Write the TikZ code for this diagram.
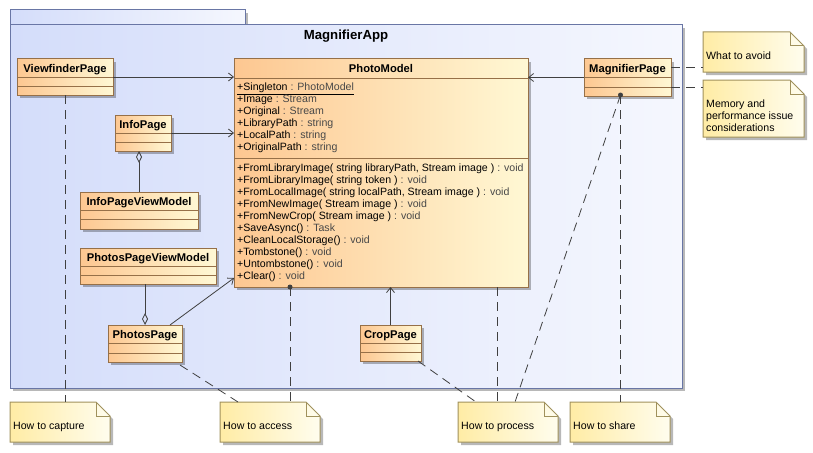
\documentclass[tikz,border=0pt]{standalone}
\usepackage{fontspec}
\setmainfont{Liberation Sans}
\usetikzlibrary{arrows.meta,shadows,calc}
\definecolor{clsL}{RGB}{253,199,145}
\definecolor{clsR}{RGB}{255,248,212}
\definecolor{clsB}{RGB}{150,112,72}
\definecolor{pkgL}{RGB}{212,221,250}
\definecolor{pkgR}{RGB}{245,247,254}
\definecolor{pkgB}{RGB}{105,118,165}
\definecolor{noteL}{RGB}{255,236,165}
\definecolor{noteR}{RGB}{255,253,238}
\definecolor{noteB}{RGB}{160,145,92}
\definecolor{lnC}{RGB}{64,64,64}
\definecolor{tpC}{RGB}{72,72,72}
\newcommand\fsN{\fontsize{10.6}{12}\selectfont}
\newcommand\fsB{\fontsize{11.2}{12}\selectfont\bfseries}
\newcommand\fsT{\fontsize{13.2}{15}\selectfont\bfseries}
\newcommand\tp[1]{\textcolor{tpC}{#1}}
\tikzset{
  shd/.style={drop shadow={shadow xshift=3pt, shadow yshift=-3pt, fill=black, opacity=0.28}},
  clsbox/.style={draw=clsB, line width=1pt, left color=clsL, right color=clsR, inner sep=0pt, outer sep=0pt, shd},
  clsname/.style={font=\fsB, anchor=base, inner sep=0pt},
  clsline/.style={draw=clsB, line width=1pt},
  cmptext/.style={anchor=north west, align=left, inner sep=0pt},
  pkgbox/.style={draw=pkgB, line width=1pt, left color=pkgL, right color=pkgR, inner sep=0pt, outer sep=0pt, shd},
  pkgtitle/.style={font=\fsT, anchor=base, inner sep=0pt},
  notefill/.style={draw=noteB, line width=1pt, left color=noteL, right color=noteR, shd},
  notefold/.style={draw=noteB, line width=1pt},
  noteanchor/.style={inner sep=0pt, outer sep=0pt},
  notetext/.style={anchor=north west, align=left, inner sep=0pt},
  assoc/.style={draw=lnC, line width=0.8pt, -{Straight Barb[length=5pt,width=8pt]}},
  aggr/.style={draw=lnC, line width=0.8pt, -{Diamond[open,length=12pt,width=6pt]}},
  notelink/.style={draw=lnC, line width=0.8pt, dash pattern=on 9pt off 6pt},
  anchordot/.style={fill=lnC}
}
% name, x1, y1, x2, y2, title, sep1, sep2
\newcommand\umlcls[8]{%
  \node[clsbox, minimum width={(#4)-(#2)}, minimum height={(#5)-(#3)}] (#1) at ({((#2)+(#4))/2},{((#3)+(#5))/2}) {};
  \node[clsname] (#1-t) at ({((#2)+(#4))/2},{((#3)+(#7))/2+4}) {#6};
  \draw[clsline] (#2,#7) -- (#4,#7) (#2,#8) -- (#4,#8);
}
% name, x1, y1, x2, y2, text
\newcommand\umlnote[6]{%
  \path[notefill] (#2,#3) -- ({(#4)-14},#3) -- (#4,{(#3)+14}) -- (#4,#5) -- (#2,#5) -- cycle;
  \draw[notefold] ({(#4)-14},#3) -- ({(#4)-14},{(#3)+14}) -- (#4,{(#3)+14});
  \node[noteanchor, minimum width={(#4)-(#2)}, minimum height={(#5)-(#3)}] (#1) at ({((#2)+(#4))/2},{((#3)+(#5))/2}) {};
  \node[notetext] (#1-t) at ({(#2)+3},{(#3)+19}) {\rule{0pt}{8pt}#6};
}
\begin{document}
\begin{tikzpicture}[x=1pt,y=-1pt, every node/.style={font=\fsN, text=black}]
\useasboundingbox (0,0) rectangle (813,452);
% package
\path[pkgbox] (10,10) rectangle (245,25);
\node[pkgbox, minimum width=672, minimum height=363] (pkg) at (346,206.5) {};
\node[pkgtitle] (pkgTitle) at ([yshift=-15pt]pkg.north) {MagnifierApp};
% classes
\umlcls{ViewfinderPage}{17}{59}{113}{95}{ViewfinderPage}{77}{86}
\umlcls{InfoPage}{115}{115}{171}{151}{InfoPage}{133}{142}
\umlcls{PhotoModel}{234}{59}{528}{287}{PhotoModel}{78}{158}
\umlcls{MagnifierPage}{584}{59}{671}{96}{MagnifierPage}{77}{87}
\umlcls{InfoPageViewModel}{80}{192}{198}{229}{InfoPageViewModel}{210}{219}
\umlcls{PhotosPageViewModel}{80}{248}{216}{284}{PhotosPageViewModel}{266}{275}
\umlcls{PhotosPage}{108}{325}{182}{362}{PhotosPage}{343}{353}
\umlcls{CropPage}{360}{325}{421}{361}{CropPage}{343}{352}
\node[cmptext] (pmAttr) at ([xshift=3pt,yshift=-23pt]PhotoModel.north west) {\rule{0pt}{8pt}\smash{\underline{+Singleton \tp{: PhotoModel}}}\\
+Image \tp{: Stream}\\
+Original \tp{: Stream}\\
+LibraryPath \tp{: string}\\
+LocalPath \tp{: string}\\
+OriginalPath \tp{: string}};
\node[cmptext] (pmOps) at ([xshift=3pt,yshift=-104pt]PhotoModel.north west) {\rule{0pt}{8pt}+FromLibraryImage( string libraryPath, Stream image ) \tp{: void}\\
+FromLibraryImage( string token ) \tp{: void}\\
+FromLocalImage( string localPath, Stream image ) \tp{: void}\\
+FromNewImage( Stream image ) \tp{: void}\\
+FromNewCrop( Stream image ) \tp{: void}\\
+SaveAsync() \tp{: Task}\\
+CleanLocalStorage() \tp{: void}\\
+Tombstone() \tp{: void}\\
+Untombstone() \tp{: void}\\
+Clear() \tp{: void}};
% notes
\umlnote{capture}{10}{402}{110}{442}{How to capture}
\umlnote{access}{220}{402}{320}{442}{How to access}
\umlnote{process}{458}{402}{558}{442}{How to process}
\umlnote{share}{570}{402}{670}{442}{How to share}
\umlnote{avoid}{703}{32}{804}{72}{What to avoid}
\umlnote{memory}{703}{80}{804}{137}{Memory and\\performance issue\\considerations}
% associations
\draw[assoc] (ViewfinderPage.east) -- (ViewfinderPage.east -| PhotoModel.west);
\draw[assoc] (InfoPage.east) -- (InfoPage.east -| PhotoModel.west);
\draw[assoc] (MagnifierPage.west) -- (MagnifierPage.west -| PhotoModel.east);
\draw[assoc] ([xshift=25pt]PhotosPage.north) -- ([yshift=9pt]PhotoModel.south west);
\draw[assoc] (CropPage.north) -- (CropPage.north |- PhotoModel.south);
\draw[aggr] (InfoPageViewModel.north) -- (InfoPageViewModel.north |- InfoPage.south);
\draw[aggr] (PhotosPage.north |- PhotosPageViewModel.south) -- (PhotosPage.north);
% note links
\coordinate (pmDotA) at ([xshift=-91pt]PhotoModel.south);
\coordinate (pmDotB) at ([xshift=116pt]PhotoModel.south);
\coordinate (magDot) at ([xshift=-7pt,yshift=1pt]MagnifierPage.south);
\draw[notelink] (ViewfinderPage.south) -- (ViewfinderPage.south |- capture.north);
\draw[notelink] ([xshift=-2pt,yshift=-3pt]PhotosPage.south east) -- ([xshift=18pt]access.north west);
\draw[notelink] (pmDotA) -- (pmDotA |- access.north);
\draw[notelink] ([xshift=-3pt]CropPage.south east) -- ([xshift=18pt]process.north west);
\draw[notelink] (pmDotB) -- (pmDotB |- process.north);
\draw[notelink] (magDot) -- ([xshift=7pt]process.north);
\draw[notelink] (magDot) -- (magDot |- share.north);
\draw[notelink] ([yshift=10pt]MagnifierPage.east) -- ([yshift=10pt]MagnifierPage.east -| avoid.west);
\draw[notelink] ([yshift=-9.5pt]MagnifierPage.east) -- ([yshift=-9.5pt]MagnifierPage.east -| memory.west);
\fill[anchordot] (pmDotA) circle (2.5pt);
\fill[anchordot] (magDot) circle (2.5pt);
\end{tikzpicture}
\end{document}
